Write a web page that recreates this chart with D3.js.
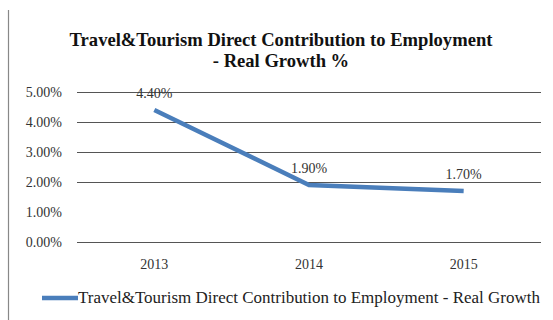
<!DOCTYPE html>
<html>
<head>
<meta charset="utf-8">
<script src="https://cdn.jsdelivr.net/npm/d3@7"></script>
<style>
  body { margin: 0; background: #fff; }
</style>
</head>
<body>
<div id="chart"></div>
<script>
// chart data
var years = ["2013", "2014", "2015"];
var growth = [4.4, 1.9, 1.7];
var yTicks = [0, 1, 2, 3, 4, 5];
var titleLines = ["Travel&Tourism Direct Contribution to Employment", "- Real Growth %"];
var seriesName = "Travel&Tourism Direct Contribution to Employment - Real Growth";

var W = 553, H = 320;
var m = {l: 77, r: 12, t: 92, b: 78};
var FONT = "'Liberation Serif'";

var svg = d3.select("#chart").append("svg")
  .attr("width", W).attr("height", H);

// left border line of the frame
svg.append("line")
  .attr("x1", 8.5).attr("x2", 8.5).attr("y1", 10).attr("y2", H)
  .attr("stroke", "#888").attr("stroke-width", 1.2);

var x = d3.scaleBand().domain(years).range([m.l, W - m.r]);
var y = d3.scaleLinear().domain([0, 5]).range([H - m.b, m.t]);

// fit a text element to a width by adjusting font size
function fitWidth(sel, w) {
  var n = sel.node();
  var fs = parseFloat(sel.style("font-size"));
  sel.style("font-size", (fs * w / n.getComputedTextLength()).toFixed(2) + "px");
}

// title
var tt = svg.selectAll(".title").data(titleLines).enter()
  .append("text")
  .attr("class", "title")
  .attr("x", 281).attr("y", function(d, i) { return 46 + i * 21; })
  .attr("text-anchor", "middle")
  .style("font-family", FONT)
  .style("font-weight", "bold").style("font-size", "17px")
  .attr("fill", "#111")
  .text(function(d) { return d; });
var t0 = tt.filter(function(d, i) { return i == 0; });
fitWidth(t0, 423);
tt.filter(function(d, i) { return i == 1; }).style("font-size", t0.style("font-size"));

// gridlines (1% line is not visible in the source)
svg.append("g").selectAll("line")
  .data(yTicks.filter(function(d) { return d != 1; }))
  .enter().append("line")
  .attr("x1", m.l).attr("x2", W - m.r)
  .attr("y1", function(d) { return Math.round(y(d)) + 0.5; })
  .attr("y2", function(d) { return Math.round(y(d)) + 0.5; })
  .attr("stroke", "#555").attr("stroke-width", 1);

// y axis labels
var yAxis = d3.axisLeft(y).tickValues(yTicks).tickSize(0).tickPadding(15)
  .tickFormat(function(d) { return d.toFixed(2) + "%"; });
svg.append("g").attr("transform", "translate(" + m.l + ",0)").call(yAxis)
  .call(function(g) { g.select(".domain").remove(); })
  .selectAll("text").style("font-family", FONT).style("font-size", "14px").attr("fill", "#333");

// x axis labels
var xAxis = d3.axisBottom(x).tickSize(0).tickPadding(17);
svg.append("g").attr("transform", "translate(0," + y(0) + ")").call(xAxis)
  .call(function(g) { g.select(".domain").remove(); })
  .selectAll("text").style("font-family", FONT).style("font-size", "14px").attr("fill", "#333");

// series line
var line = d3.line()
  .x(function(d, i) { return x(years[i]) + x.bandwidth() / 2; })
  .y(function(d) { return y(d); });

svg.append("path").datum(growth)
  .attr("d", line)
  .attr("fill", "none")
  .attr("stroke", "#4a7ebb").attr("stroke-width", 4.5);

// data labels
svg.selectAll(".lbl").data(growth).enter()
  .append("text")
  .attr("class", "lbl")
  .attr("x", function(d, i) { return x(years[i]) + x.bandwidth() / 2; })
  .attr("y", function(d) { return y(d) - 12; })
  .attr("text-anchor", "middle")
  .style("font-family", FONT)
  .style("font-size", "14px").attr("fill", "#333")
  .text(function(d) { return d.toFixed(2) + "%"; });

// legend
var lg = svg.append("g").attr("transform", "translate(42,298)");
lg.append("line").attr("x1", 0).attr("x2", 36).attr("y1", 0).attr("y2", 0)
  .attr("stroke", "#4a7ebb").attr("stroke-width", 4.5);
var lt = lg.append("text").attr("x", 36).attr("y", 5)
  .style("font-family", FONT)
  .style("font-size", "14px").attr("fill", "#222")
  .text(seriesName);
fitWidth(lt, 462);
</script>
</body>
</html>
